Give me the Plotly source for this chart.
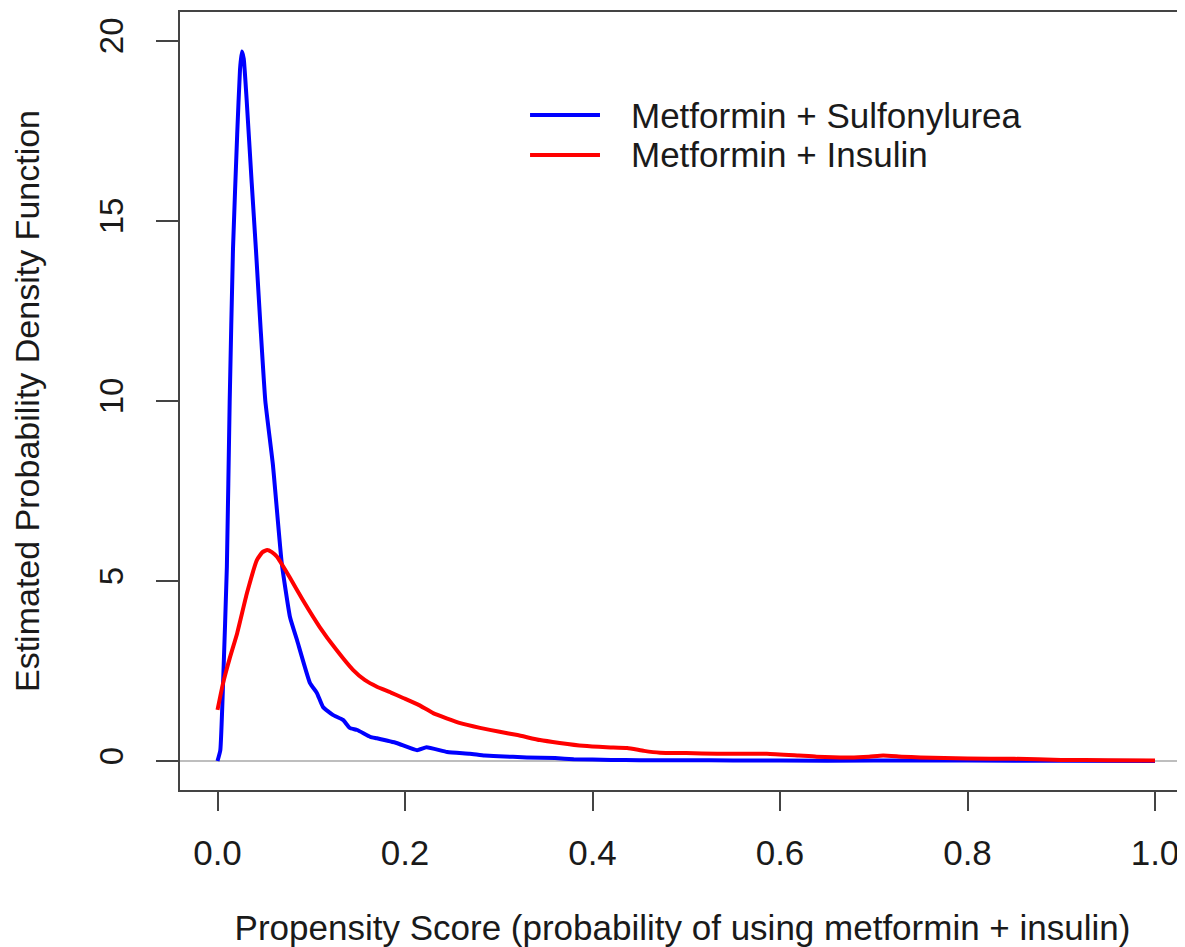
import plotly.graph_objects as go

# Blue: Metformin + Sulfonylurea (estimated density)
su_x = [0, 0.003, 0.006, 0.010, 0.013, 0.0165, 0.021, 0.024, 0.026, 0.028, 0.031, 0.0365, 0.041,
        0.046, 0.051, 0.0592, 0.0685, 0.0773, 0.0848, 0.0987, 0.106, 0.1125, 0.123, 0.1339, 0.141,
        0.149, 0.163, 0.170, 0.191, 0.213, 0.223, 0.245, 0.269, 0.285, 0.30, 0.33, 0.36, 0.38,
        0.42, 0.45, 0.5, 0.55, 0.6, 0.7, 0.8, 0.9, 1.0]
su_y = [0, 0.3, 2.2, 5.4, 10, 14.2, 17.4, 19.2, 19.7, 19.5, 18.4, 16.05, 14.2,
        12.0, 10.0, 8.2, 5.5, 4.0, 3.36, 2.16, 1.89, 1.5, 1.28, 1.14, 0.92,
        0.86, 0.67, 0.63, 0.5, 0.3, 0.38, 0.25, 0.2, 0.15, 0.13, 0.1, 0.08, 0.05,
        0.03, 0.02, 0.02, 0.015, 0.01, 0.01, 0.01, 0.005, 0.0]

# Red: Metformin + Insulin (estimated density)
ins_x = [0, 0.006, 0.013, 0.021, 0.0315, 0.042, 0.048, 0.053, 0.058, 0.0635, 0.077, 0.091, 0.109,
         0.127, 0.1445, 0.157, 0.170, 0.185, 0.198, 0.215, 0.230, 0.259, 0.280, 0.301, 0.320,
         0.344, 0.365, 0.390, 0.415, 0.437, 0.455, 0.472, 0.50, 0.533, 0.586, 0.62, 0.639, 0.675,
         0.695, 0.710, 0.73, 0.75, 0.8, 0.85, 0.9, 0.95, 1.0]
ins_y = [1.42, 2.17, 2.85, 3.55, 4.67, 5.58, 5.8, 5.86, 5.8, 5.67, 5.1, 4.47, 3.72,
         3.08, 2.53, 2.25, 2.06, 1.9, 1.75, 1.55, 1.33, 1.05, 0.92, 0.81, 0.72,
         0.58, 0.5, 0.42, 0.38, 0.36, 0.28, 0.23, 0.22, 0.2, 0.2, 0.15, 0.12, 0.1,
         0.12, 0.15, 0.12, 0.1, 0.07, 0.06, 0.03, 0.02, 0.01]

series_names = ["Metformin + Sulfonylurea", "Metformin + Insulin"]
series_colors = ["#0000FF", "#FF0000"]

x_ticks = [0.0, 0.2, 0.4, 0.6, 0.8, 1.0]
x_tick_labels = ["0.0", "0.2", "0.4", "0.6", "0.8", "1.0"]
y_ticks = [0, 5, 10, 15, 20]
y_tick_labels = ["0", "5", "10", "15", "20"]

x_title = "Propensity Score (probability of using metformin + insulin)"
y_title = "Estimated Probability Density Function"

FONT = "Liberation Sans, Arial, sans-serif"

fig = go.Figure()
for xs, ys, name, col in [(su_x, su_y, series_names[0], series_colors[0]),
                          (ins_x, ins_y, series_names[1], series_colors[1])]:
    fig.add_trace(go.Scatter(x=xs, y=ys, mode="lines", name=name,
                             line=dict(color=col, width=4, shape="spline", smoothing=0.4),
                             showlegend=False))

# custom legend (R-style, no box); paper coords of the plot area
leg_rows = [0.8676, 0.8162]
for name, col, yy in zip(series_names, series_colors, leg_rows):
    fig.add_shape(type="line", xref="paper", yref="paper", x0=0.3483, x1=0.4179, y0=yy, y1=yy,
                  line=dict(color=col, width=4))
    fig.add_annotation(xref="paper", yref="paper", x=0.4467, y=yy, xanchor="left", yanchor="middle",
                       text=name, showarrow=False, font=dict(family=FONT, size=35, color="#1a1a1a"))

# page body has an 8px margin; shrink figure so it fits the 1185x947 window
fig.update_layout(
    width=1177, height=939,
    margin=dict(l=172, r=0, t=4, b=157),
    paper_bgcolor="white", plot_bgcolor="white",
    font=dict(family=FONT, size=35, color="#1a1a1a"),
)
fig.update_xaxes(
    range=[-0.04, 1.032], tickvals=x_ticks, ticktext=x_tick_labels,
    showgrid=False, zeroline=False,
    showline=True, mirror=True, linecolor="#444444", linewidth=1.5,
    ticks="outside", ticklen=19, tickwidth=1.5, tickcolor="#444444",
    ticklabelstandoff=12,
    tickfont=dict(family=FONT, size=35, color="#1a1a1a"),
    title=dict(text=x_title, font=dict(family=FONT, size=35, color="#1a1a1a"), standoff=46),
)
fig.update_yaxes(
    range=[-0.806, 20.8], tickvals=y_ticks, ticktext=y_tick_labels, tickangle=-90,
    showgrid=False,
    zeroline=True, zerolinecolor="#BEBEBE", zerolinewidth=1.5,
    showline=True, mirror=False, linecolor="#444444", linewidth=1.5,
    ticks="outside", ticklen=22, tickwidth=1.5, tickcolor="#444444",
    ticklabelstandoff=20,
    tickfont=dict(family=FONT, size=33, color="#1a1a1a"),
    title=dict(text=y_title, font=dict(family=FONT, size=34, color="#1a1a1a"), standoff=44),
)

fig.write_html("out.html")
